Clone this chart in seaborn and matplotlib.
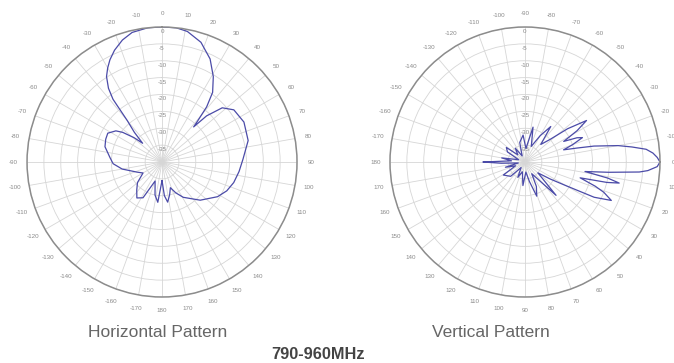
import numpy as np
import pandas as pd
import matplotlib
matplotlib.use("Agg")
import matplotlib.pyplot as plt
import matplotlib.transforms as mtransforms
import seaborn as sns

# Horizontal pattern: angle (deg, clockwise from top) and gain (dB)
h_angle = [-180, -174, -168, -160, -152, -145, -138, -130, -120, -112, -100, -92,
           -85, -75, -68, -62, -56, -53, -49, -46, -43, -40, -38, -36, -33, -30,
           -27, -23, -18, -13, -6, 0, 6, 11, 18, 25, 31, 36, 39, 41, 42, 44, 48,
           54, 64, 76, 88, 97, 106, 114, 122, 135, 149, 156, 162, 167, 172, 176, 180]
h_gain = [-34.5, -28, -30, -34, -28, -27, -28.8, -30.5, -33.5, -32, -28, -25.5,
          -24.5, -22.5, -22, -21.8, -23.5, -25.4, -29, -32, -28, -24, -16.4, -13, -9.8, -7.8,
          -6, -4, -2, -0.6, 0, 0, 0, -0.6, -2.7, -6.3, -10.5, -14.5, -19, -24, -26, -21, -16,
          -13.7, -13, -13.7, -16, -17, -17.9, -19, -20.6, -24, -27.8, -30, -32, -30, -28, -30, -34.5]

# Vertical pattern: angle (deg, clockwise from right) and gain (dB)
v_angle = [-180, -175, -170, -160, -150, -142, -135, -125, -115, -105, -94, -86,
           -77, -68, -60, -54, -48, -42, -38, -34, -31, -28, -25, -23, -20, -17.5,
           -15, -13, -10, -8, -6, -4, -2, 0, 2, 4, 5, 7, 9, 11, 12.6, 14, 16, 19,
           21, 24, 27, 30, 34, 40, 47, 52, 60, 65, 71, 77, 85, 95, 105, 115, 125,
           135, 149, 158, 165, 172, 177, 180]
v_gain = [-27.6, -36, -33, -38, -34, -33, -37, -35, -38, -34, -32, -36,
          -29.4, -35, -31, -27, -33, -30, -24, -18, -22, -27, -23, -21.5, -25, -28,
          -24, -19, -12, -8, -3.9, -2, -0.8, 0, -0.8, -3.5, -6, -15, -22, -15, -11.4, -15, -23, -18,
          -15, -12, -17, -26, -31, -35, -26.5, -33, -36, -32, -29.3, -34, -37, -33, -37, -35, -38,
          -34, -32.5, -37, -34, -38, -33, -27.6]

r_ticks = [-35, -30, -25, -20, -15, -10, -5, 0]
theta_ticks = list(range(0, 360, 10))
theta_labels = [str(a if a <= 180 else a - 360) for a in theta_ticks]

sns.set_theme(style="white")
plt.rcParams['font.family'] = ['Liberation Sans', 'DejaVu Sans']

line_color = '#4b4ba8'
label_color = '#8a8a8a'


def style_polar(ax, zero, rlabel_pos):
    ax.set_theta_zero_location(zero)
    ax.set_theta_direction(-1)
    ax.set_ylim(-40, 0)
    ax.set_yticks(r_ticks)
    ax.set_yticklabels([str(r) for r in r_ticks])
    ax.set_rlabel_position(rlabel_pos)
    ax.set_xticks(np.deg2rad(theta_ticks))
    ax.set_xticklabels(theta_labels)
    ax.grid(True, color='#d6d6d6', linewidth=0.6)
    ax.spines['polar'].set_color('#8c8c8c')
    ax.spines['polar'].set_linewidth(1.1)
    ax.tick_params(axis='x', labelsize=4.5, labelcolor=label_color, pad=-3)
    ax.tick_params(axis='y', labelsize=4.5, labelcolor=label_color)
    # push the dB labels a little below their rings, as in the source image
    shift = mtransforms.ScaledTranslation(0, -5 / 72, ax.figure.dpi_scale_trans)
    for tick in ax.yaxis.get_major_ticks():
        tick.label1.set_horizontalalignment('center')
        tick.label1.set_transform(tick.label1.get_transform() + shift)
    ax.set_xlabel('')
    ax.set_ylabel('')


fig = plt.figure(figsize=(6.74, 3.63), dpi=100)
fig.patch.set_facecolor('white')

ax1 = fig.add_axes([0.0401, 0.1818, 0.4006, 0.7438], projection='polar')
ax2 = fig.add_axes([0.5786, 0.1818, 0.4006, 0.7438], projection='polar')

h_df = pd.DataFrame({'theta': np.deg2rad(h_angle), 'gain': h_gain})
v_df = pd.DataFrame({'theta': np.deg2rad(v_angle), 'gain': v_gain})

sns.lineplot(data=h_df, x='theta', y='gain', ax=ax1, sort=False, estimator=None,
             color=line_color, linewidth=0.9)
sns.lineplot(data=v_df, x='theta', y='gain', ax=ax2, sort=False, estimator=None,
             color=line_color, linewidth=0.9)

style_polar(ax1, 'N', 0)
style_polar(ax2, 'E', 270)

fig.text(158 / 674, 1 - 337 / 363, 'Horizontal Pattern', ha='center', va='baseline',
         fontsize=12.5, color='#666666')
fig.text(491 / 674, 1 - 337 / 363, 'Vertical Pattern', ha='center', va='baseline',
         fontsize=12.5, color='#666666')
fig.text(318 / 674, 1 - 359 / 363, '790-960MHz', ha='center', va='baseline',
         fontsize=11.8, fontweight='bold', color='#444444')

fig.savefig('out.png', dpi=100)
